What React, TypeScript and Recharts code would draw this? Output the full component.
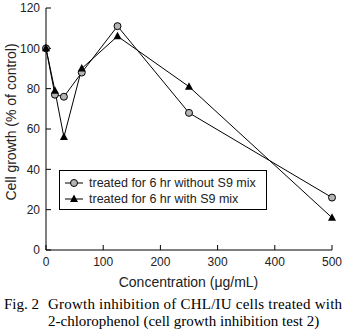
import React from 'react'
import { Legend, Line, LineChart, XAxis, YAxis } from 'recharts'

const concentrations = [0, 15.6, 31.3, 62.5, 125, 250, 500]
const withoutS9 = [100, 77, 76, 88, 111, 68, 26]
const withS9 = [100, 79, 56, 90, 106, 81, 16]
const seriesNames = ['treated for 6 hr without S9 mix', 'treated for 6 hr with S9 mix']
const xTicks = [0, 100, 200, 300, 400, 500]
const yTicks = [0, 20, 40, 60, 80, 100, 120]

const data = concentrations.map((c, i) => ({ conc: c, without: withoutS9[i], with: withS9[i] }))

const sans = '"Liberation Sans", Arial, sans-serif'
const serif = '"Liberation Serif", "Times New Roman", serif'

const circleDot = (p: any) => (
  <circle key={`c-${p.index}`} cx={p.cx} cy={p.cy} r={3.5} fill="#b4b4b4" stroke="#000" strokeWidth={1} />
)

const triangleDot = (p: any) => (
  <polygon
    key={`t-${p.index}`}
    points={`${p.cx},${p.cy - 4.5} ${p.cx - 4},${p.cy + 3} ${p.cx + 4},${p.cy + 3}`}
    fill="#000"
  />
)

const LegendBox = () => (
  <div style={{ position: 'relative', width: 208, height: 40, border: '1px solid #000', boxSizing: 'border-box', background: '#fff', fontFamily: sans, fontSize: 12.5, color: '#222' }}>
    {seriesNames.map((name, i) => (
      <div key={name} style={{ position: 'absolute', left: 4, top: 4 + i * 16, height: 16, display: 'flex', alignItems: 'center', whiteSpace: 'nowrap' }}>
        <svg width={20} height={12} style={{ marginRight: 5 }}>
          <line x1={1} y1={6} x2={19} y2={6} stroke="#000" strokeWidth={1} />
          {i === 0
            ? <circle cx={10} cy={6} r={3.5} fill="#b4b4b4" stroke="#000" />
            : <polygon points="10,1.5 6,9 14,9" fill="#000" />}
        </svg>
        <span>{name}</span>
      </div>
    ))}
  </div>
)

export default function App() {
  return (
    <div style={{ position: 'absolute', left: 0, top: 0, width: 345, height: 336, background: '#fff' }}>
      <LineChart width={345} height={296} data={data} margin={{ top: 8, right: 13, bottom: 0, left: 0 }}>
        <XAxis
          dataKey="conc"
          type="number"
          domain={[0, 500]}
          ticks={xTicks}
          height={46}
          tickSize={-5}
          tickMargin={12}
          axisLine={{ stroke: '#000' }}
          tickLine={{ stroke: '#000' }}
          tick={{ fill: '#222', fontFamily: sans, fontSize: 12 }}
        />
        <YAxis
          type="number"
          domain={[0, 120]}
          ticks={yTicks}
          width={46}
          tickSize={-5}
          tickMargin={11}
          axisLine={{ stroke: '#000' }}
          tickLine={{ stroke: '#000' }}
          tick={{ fill: '#222', fontFamily: sans, fontSize: 12 }}
        />
        <Legend
          layout="vertical"
          align="center"
          verticalAlign="middle"
          wrapperStyle={{ left: 59, top: 170, width: 208, height: 40 }}
          content={() => <LegendBox />}
        />
        <Line dataKey="without" name={seriesNames[0]} stroke="#000" strokeWidth={1} dot={circleDot} activeDot={false} isAnimationActive={false} />
        <Line dataKey="with" name={seriesNames[1]} stroke="#000" strokeWidth={1} dot={triangleDot} activeDot={false} isAnimationActive={false} />
      </LineChart>

      {/* axis titles */}
      <div style={{ position: 'absolute', left: 11, top: 122, transform: 'translate(-50%, -50%) rotate(-90deg)', fontFamily: sans, fontSize: 14, color: '#222', whiteSpace: 'nowrap', lineHeight: '16px' }}>
        Cell growth (% of control)
      </div>
      <div style={{ position: 'absolute', left: 188.5, top: 282, transform: 'translate(-50%, -50%)', fontFamily: sans, fontSize: 14, color: '#222', whiteSpace: 'nowrap', lineHeight: '16px' }}>
        Concentration (μg/mL)
      </div>

      {/* caption */}
      <div style={{ position: 'absolute', left: 0, top: 296, width: 345, fontFamily: serif, fontSize: 15, lineHeight: '17px', color: '#000', whiteSpace: 'nowrap' }}>
        <div style={{ position: 'absolute', left: 4, top: 0 }}>Fig. 2</div>
        <div style={{ position: 'absolute', left: 48, top: 0, letterSpacing: 0.22 }}>Growth inhibition of CHL/IU cells treated with</div>
        <div style={{ position: 'absolute', left: 48, top: 17 }}>2-chlorophenol (cell growth inhibition test 2)</div>
      </div>
    </div>
  )
}
